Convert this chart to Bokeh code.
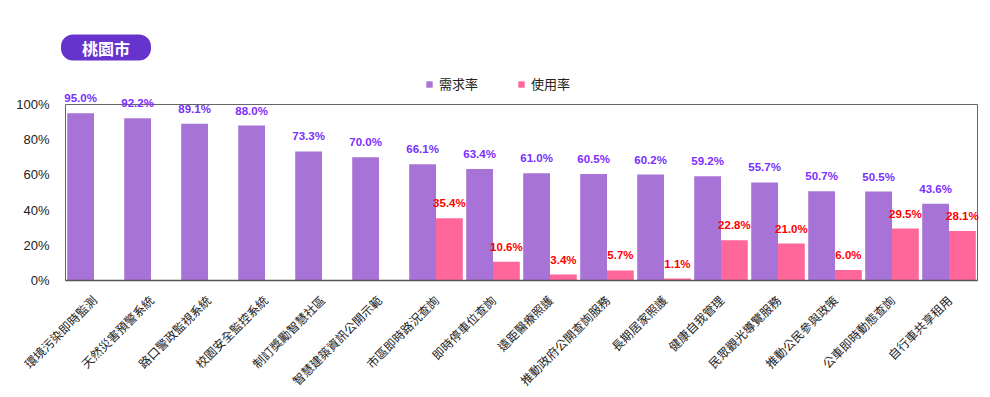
import math
from bokeh.plotting import figure
from bokeh.models import ColumnDataSource, Legend, LegendItem, Label, Range1d, FactorRange, FixedTicker
from bokeh.transform import dodge
from bokeh.core.properties import value
from bokeh.embed import file_html
from bokeh.resources import INLINE

categories = ["環境污染即時監測", "天然災害預警系統", "路口警政監視系統", "校園安全監控系統",
              "制訂獎勵智慧社區", "智慧建築資訊公開示範", "市區即時路況查詢", "即時停車位查詢",
              "遠距醫療照護", "推動政府公開查詢服務", "長期居家照護", "健康自我管理",
              "民眾觀光導覽服務", "推動公民參與政策", "公車即時動態查詢", "自行車共享租用"]
demand = [95.0, 92.2, 89.1, 88.0, 73.3, 70.0, 66.1, 63.4, 61.0, 60.5, 60.2, 59.2, 55.7, 50.7, 50.5, 43.6]
usage = [None, None, None, None, None, None, 35.4, 10.6, 3.4, 5.7, 1.1, 22.8, 21.0, 6.0, 29.5, 28.1]
series_names = ["需求率", "使用率"]
y_ticks = [0, 20, 40, 60, 80, 100]
title_text = "桃園市"

PURPLE = "#A873D6"
PINK = "#FF6699"
PURPLE_TXT = "#7A2EFF"
RED_TXT = "#FF0000"

# layout (pixels)
FIG_W = 990
FIG_H = 397
BOX_LEFT = 65      # left edge of the 0..100% box
BOX_RIGHT = 977
PAD_PX = 8         # extra frame beyond the box on both sides
FRAME_TOP = 20
Y100_PX = 104      # where 100% sits
Y0_PX = 280        # where 0% sits
FRAME_BOTTOM = 288
PPU = (Y0_PX - Y100_PX) / 100.0
Y_MIN = -(FRAME_BOTTOM - Y0_PX) / PPU
Y_MAX = (Y0_PX - FRAME_TOP) / PPU
CAT_PX = (BOX_RIGHT - BOX_LEFT) / len(categories)

src = ColumnDataSource(dict(
    cat=categories,
    demand=demand,
    usage=[float("nan") if u is None else u for u in usage],
    dlab=[f"{d:.1f}%" for d in demand],
    ulab=["" if u is None else f"{u:.1f}%" for u in usage],
))

xr = FactorRange(*categories, range_padding=PAD_PX / CAT_PX, range_padding_units="absolute")
p = figure(x_range=xr, y_range=Range1d(Y_MIN, Y_MAX),
           width=FIG_W, height=FIG_H, output_backend="svg", toolbar_location=None,
           min_border_left=BOX_LEFT - PAD_PX, min_border_right=FIG_W - BOX_RIGHT - PAD_PX,
           min_border_top=FRAME_TOP, min_border_bottom=FIG_H - FRAME_BOTTOM)
p.background_fill_color = "white"
p.outline_line_color = None
p.xgrid.visible = False
p.ygrid.visible = False

# plot-area box (0..100%)
p.quad(left=[0], right=[len(categories)], bottom=[0], top=[100],
       fill_color=None, line_color="#666666", line_width=1)

W = 0.47
r1 = p.vbar(x=dodge("cat", -W / 2, range=p.x_range), top="demand", width=W, source=src,
            fill_color=PURPLE, line_color=None)
r2 = p.vbar(x=dodge("cat", W / 2, range=p.x_range), top="usage", width=W, source=src,
            fill_color=PINK, line_color=None)
p.segment(x0=[0], x1=[len(categories)], y0=[0], y1=[0], line_color="#555555", line_width=1.3)

p.text(x=dodge("cat", -W / 2, range=p.x_range), y="demand", text="dlab", source=src,
       text_align="center", text_baseline="bottom", y_offset=-9,
       text_font=value("Liberation Sans"), text_font_style="bold",
       text_font_size="11.5px", text_color=PURPLE_TXT)
p.text(x=dodge("cat", W / 2, range=p.x_range), y="usage", text="ulab", source=src,
       text_align="center", text_baseline="bottom", y_offset=-9,
       text_font=value("Liberation Sans"), text_font_style="bold",
       text_font_size="11.5px", text_color=RED_TXT)

# axes
p.yaxis.ticker = FixedTicker(ticks=y_ticks)
p.yaxis.bounds = (0, 100)
p.yaxis.major_label_overrides = {t: f"{t}%" for t in y_ticks}
p.yaxis.axis_line_color = None
p.yaxis.major_tick_line_color = None
p.yaxis.minor_tick_line_color = None
p.yaxis.major_label_standoff = 2
p.yaxis.major_label_text_font = "Liberation Sans"
p.yaxis.major_label_text_font_size = "13px"
p.yaxis.major_label_text_color = "#222222"

p.xaxis.axis_line_color = None
p.xaxis.major_tick_line_color = None
p.xaxis.minor_tick_line_color = None
p.xaxis.major_label_orientation = math.pi / 4
p.xaxis.major_label_standoff = 3
p.xaxis.major_label_text_font = "Noto Sans CJK TC"
p.xaxis.major_label_text_font_size = "12px"
p.xaxis.major_label_text_color = "#222222"

legend = Legend(items=[LegendItem(label=series_names[0], renderers=[r1]),
                       LegendItem(label=series_names[1], renderers=[r2])],
                orientation="horizontal", location=(360 + PAD_PX, 195),
                label_text_font="Noto Sans CJK TC", label_text_font_size="13px",
                label_text_color="#222222", glyph_width=8, glyph_height=8,
                spacing=39, label_standoff=6, border_line_color=None,
                background_fill_alpha=0, padding=0, margin=0)
p.add_layout(legend, "center")

badge = Label(x=105.5 - (BOX_LEFT - PAD_PX), y=FRAME_BOTTOM - 47, x_units="screen", y_units="screen",
              text=title_text, text_align="center", text_baseline="middle", text_color="white",
              text_font="Noto Sans CJK TC", text_font_style="bold", text_font_size="16px",
              background_fill_color="#6633CC", border_radius=12, padding=(21, 1))
p.add_layout(badge)

open("out.html", "w").write(file_html(p, INLINE))
